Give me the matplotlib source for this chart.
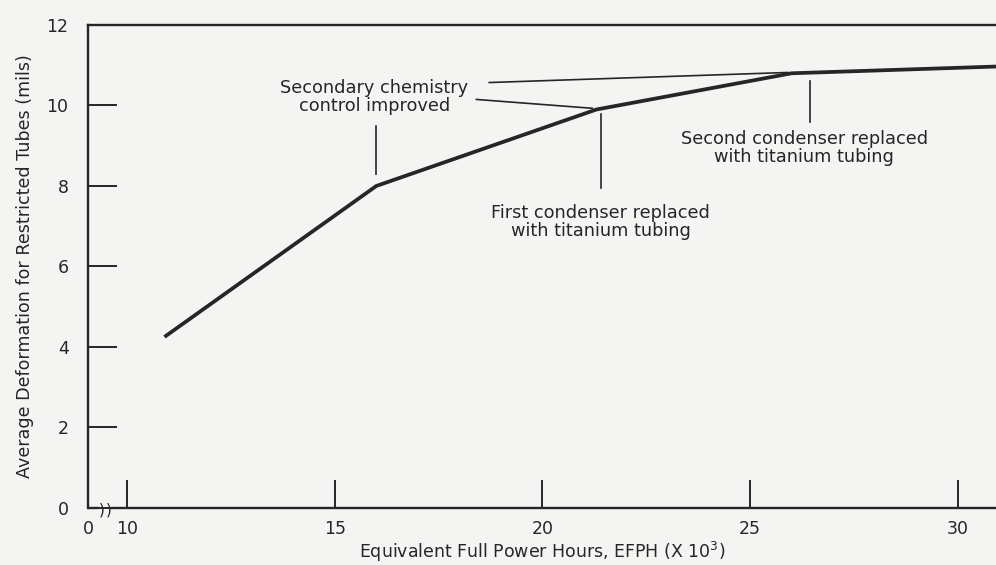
import matplotlib
matplotlib.use("Agg")
import matplotlib.pyplot as plt

# ---- data ----
efph = [10.9, 16.0, 21.3, 26.0, 31.0]          # x 10^3 hours
deformation = [4.25, 8.0, 9.9, 10.8, 10.97]     # mils
x_ticks = [10, 15, 20, 25, 30]
x_tick_labels = ["10", "15", "20", "25", "30"]
y_ticks = [0, 2, 4, 6, 8, 10, 12]
events = {
    "chem": 16.0,     # Secondary chemistry control improved
    "first": 21.4,    # First condenser replaced
    "second": 26.45,  # Second condenser replaced
}

ink = "#262626"
bg = "#f4f4f2"
plt.rcParams["font.family"] = ["DejaVu Sans"]

fig = plt.figure(figsize=(9.96, 5.65), dpi=100, facecolor=bg)
ax = fig.add_axes([0.0884, 0.1009, 0.9116, 0.8549], facecolor=bg)

xmin, xmax = 9.06, 30.92
ax.set_xlim(xmin, xmax)
ax.set_ylim(0, 12)

ax.plot(efph, deformation, color=ink, lw=2.7, solid_capstyle="butt", clip_on=True)

# spines
for s in ["left", "top"]:
    ax.spines[s].set_color(ink)
    ax.spines[s].set_linewidth(1.7)
ax.spines["right"].set_visible(False)
ax.spines["bottom"].set_visible(False)

# bottom axis with break
xt = ax.get_xaxis_transform()
ax.plot([xmin, 9.32], [0, 0], color=ink, lw=1.7, transform=xt, clip_on=False, solid_capstyle="butt")
ax.plot([9.62, xmax], [0, 0], color=ink, lw=1.7, transform=xt, clip_on=False, solid_capstyle="butt")
ax.text(9.38, -0.004, ")", transform=xt, ha="center", va="center", fontsize=11, color=ink)
ax.text(9.56, -0.004, ")", transform=xt, ha="center", va="center", fontsize=11, color=ink)

# ticks
ax.set_xticks([xmin] + x_ticks)
ax.set_xticklabels(["0"] + x_tick_labels)
ax.set_yticks(y_ticks)
ax.tick_params(axis="x", direction="in", length=20, width=1.4, color=ink,
               labelsize=12.5, labelcolor=ink, pad=9)
ax.tick_params(axis="y", direction="in", length=21, width=1.4, color=ink,
               labelsize=12.5, labelcolor=ink, pad=14)
ax.xaxis.get_major_ticks()[0].tick1line.set_visible(False)
for t in ax.yaxis.get_major_ticks():
    t.tick2line.set_visible(False)

ax.set_xlabel("Equivalent Full Power Hours, EFPH (X 10$^3$)", fontsize=12.5, color=ink, labelpad=1)
ax.set_ylabel("Average Deformation for Restricted Tubes (mils)", fontsize=12.6, color=ink, labelpad=9)

# annotations
lw_a = 1.2
fs_a = 12.8
ax.text(15.95, 10.22, "Secondary chemistry\ncontrol improved", ha="center", va="center",
        fontsize=fs_a, color=ink, linespacing=1.0)
ax.plot([18.72, 25.9], [10.57, 10.82], color=ink, lw=lw_a)
ax.plot([18.41, 21.2], [10.15, 9.93], color=ink, lw=lw_a)
ax.plot([events["chem"], events["chem"]], [8.3, 9.5], color=ink, lw=lw_a)

ax.plot([events["first"], events["first"]], [7.95, 9.8], color=ink, lw=lw_a)
ax.text(events["first"], 7.1, "First condenser replaced\nwith titanium tubing", ha="center",
        va="center", fontsize=fs_a, color=ink, linespacing=1.0)

ax.plot([events["second"], events["second"]], [9.58, 10.62], color=ink, lw=lw_a)
ax.text(26.3, 8.95, "Second condenser replaced\nwith titanium tubing", ha="center",
        va="center", fontsize=fs_a, color=ink, linespacing=1.0)

fig.savefig("out.png", dpi=100, facecolor=bg)
